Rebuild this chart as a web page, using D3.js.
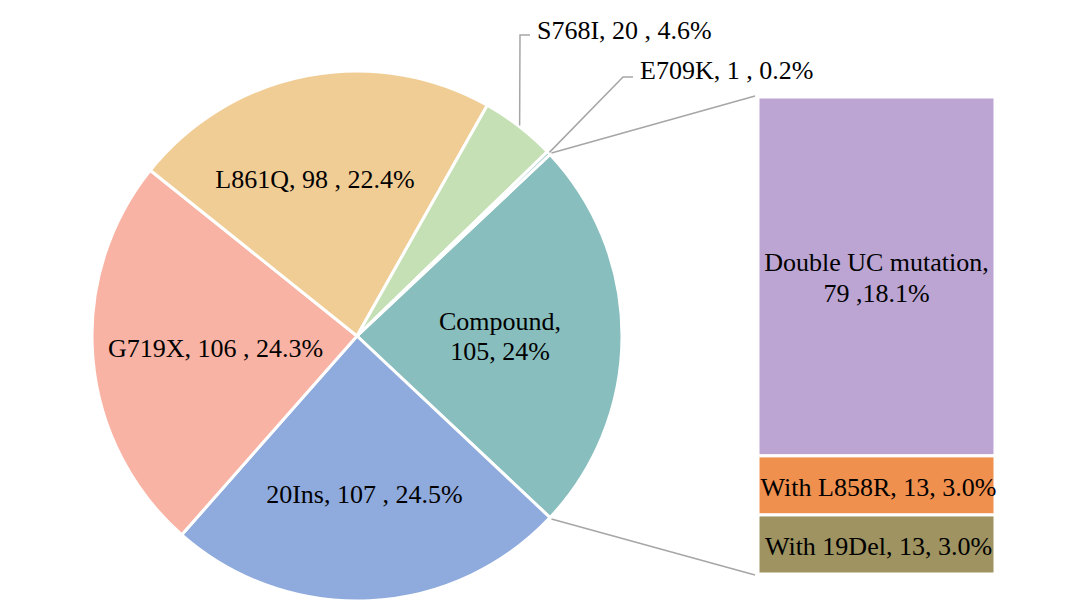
<!DOCTYPE html>
<html>
<head>
<meta charset="utf-8">
<script src="https://cdn.jsdelivr.net/npm/d3@7"></script>
<style>
  body { margin: 0; background: #fff; }
</style>
</head>
<body>
<svg id="chart" width="1080" height="609"></svg>
<script>
// pie slices, clockwise starting from the split slice
const pieNames = ['Compound', '20Ins', 'G719X', 'L861Q', 'S768I', 'E709K'];
const pieValues = [105, 107, 106, 98, 20, 1];
const pieLabels = [['Compound,', '105, 24%'], ['20Ins, 107 , 24.5%'], ['G719X, 106 , 24.3%'],
                   ['L861Q, 98 , 22.4%'], ['S768I, 20 , 4.6%'], ['E709K, 1 , 0.2%']];
const pieColors = ['#88bebd', '#8faadc', '#f9b3a4', '#f1cd96', '#c5e0b4', '#88bebd'];

// the bar that breaks down "Compound"
const barNames = ['Double UC', 'With L858R', 'With 19Del'];
const barValues = [79, 13, 13];
const barLabels = [['Double UC mutation,', '79 ,18.1%'], ['With L858R, 13, 3.0%'], ['With 19Del, 13, 3.0%']];
const barColors = ['#bca5d3', '#f0904f', '#9e9361'];

const svg = d3.select('#chart');
const cx = 357, cy = 336, r = 265;
const fontSize = 26;
const fontFamily = '"Liberation Serif", "Times New Roman", Times, "DejaVu Serif", serif';
const lineColor = '#a6a6a6';

// Pie, rotated so the split slice sits centred at 3 o'clock
const splitAngle = pieValues[0] / d3.sum(pieValues) * 2 * Math.PI;
const pie = d3.pie().sort(null).value(d => d)
    .startAngle(Math.PI / 2 - splitAngle / 2)
    .endAngle(Math.PI / 2 - splitAngle / 2 + 2 * Math.PI);
const arcs = pie(pieValues);
const arc = d3.arc().innerRadius(0).outerRadius(r);

const g = svg.append('g').attr('transform', `translate(${cx},${cy})`);
g.selectAll('path')
    .data(arcs)
    .join('path')
    .attr('d', arc)
    .attr('fill', (d, i) => pieColors[i])
    .attr('stroke', '#fff')
    .attr('stroke-width', 3)
    .attr('stroke-linejoin', 'round');

// point on the circle for an angle (0 = 12 o'clock, clockwise)
const polar = (a, rad) => [Math.sin(a) * rad, -Math.cos(a) * rad];

// Inside labels for the four big slices (small angle nudge for L861Q)
const labelR = [143, 158, 142, 163];
const labelNudge = [0, 0, 0, -0.07];
arcs.slice(0, 4).forEach((d, i) => {
    const mid = (d.startAngle + d.endAngle) / 2 + labelNudge[i];
    const [x, y] = polar(mid, labelR[i]);
    const lines = pieLabels[i];
    const t = g.append('text')
        .attr('text-anchor', 'middle')
        .attr('font-family', fontFamily)
        .attr('font-size', fontSize);
    lines.forEach((s, k) => {
        t.append('tspan')
            .attr('x', x)
            .attr('y', y + (k - (lines.length - 1) / 2) * 30)
            .attr('dy', '0.35em')
            .text(s);
    });
});

// Outside labels with leader lines for the small slices
const outside = [
    { i: 4, elbow: [520, 35], end: [530, 35], text: [537, 30] },
    { i: 5, elbow: [623, 77], end: [633, 77], text: [640, 70] }
];
outside.forEach(o => {
    const d = arcs[o.i];
    const [px, py] = polar((d.startAngle + d.endAngle) / 2, r + 1);
    svg.append('polyline')
        .attr('points', [[cx + px, cy + py], o.elbow, o.end].map(p => p.join(',')).join(' '))
        .attr('fill', 'none')
        .attr('stroke', lineColor)
        .attr('stroke-width', 1.5);
    svg.append('text')
        .attr('x', o.text[0])
        .attr('y', o.text[1])
        .attr('dy', '0.35em')
        .attr('font-family', fontFamily)
        .attr('font-size', fontSize)
        .text(pieLabels[o.i][0]);
});

// Stacked bar
const barX = 758, barW = 237;
const y = d3.scaleLinear().domain([0, d3.sum(barValues)]).range([97, 574]);
const cum = d3.cumsum([0, ...barValues]);
svg.selectAll('rect.seg')
    .data(barValues)
    .join('rect')
    .attr('class', 'seg')
    .attr('x', barX)
    .attr('y', (d, i) => y(cum[i]))
    .attr('width', barW)
    .attr('height', d => y(d) - y(0))
    .attr('fill', (d, i) => barColors[i])
    .attr('stroke', '#fff')
    .attr('stroke-width', 3);

barLabels.forEach((lines, i) => {
    const midY = (y(cum[i]) + y(cum[i + 1])) / 2;
    const lx = barX + barW / 2 + (i === 0 ? 0 : 2);
    const t = svg.append('text')
        .attr('text-anchor', 'middle')
        .attr('font-family', fontFamily)
        .attr('font-size', fontSize);
    lines.forEach((s, k) => {
        t.append('tspan')
            .attr('x', lx)
            .attr('y', midY + 1 + (k - (lines.length - 1) / 2) * 31)
            .attr('dy', '0.35em')
            .text(s);
    });
});

// Connector lines between the split slice and the bar
const [ax, ay] = polar(arcs[0].startAngle, r + 2);
const [bx, by] = polar(arcs[0].endAngle, r + 2);
svg.append('line')
    .attr('x1', cx + ax).attr('y1', cy + ay)
    .attr('x2', barX - 3).attr('y2', y(0) - 1)
    .attr('stroke', lineColor).attr('stroke-width', 1.5);
svg.append('line')
    .attr('x1', cx + bx).attr('y1', cy + by)
    .attr('x2', barX - 3).attr('y2', y(d3.sum(barValues)) + 1)
    .attr('stroke', lineColor).attr('stroke-width', 1.5);
</script>
</body>
</html>
